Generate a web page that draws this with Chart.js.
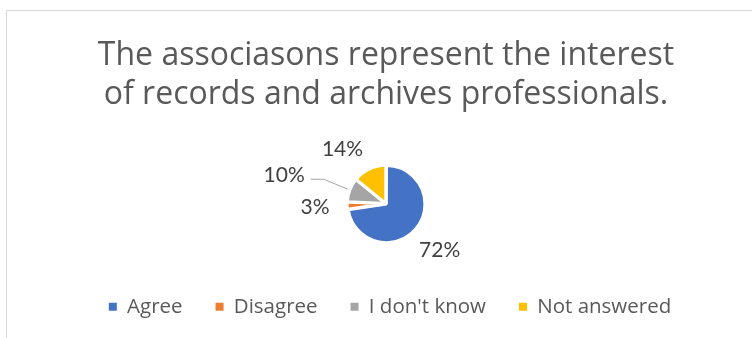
<!DOCTYPE html>
<html>
<head>
<meta charset="utf-8">
<script src="https://cdn.jsdelivr.net/npm/chart.js@4.4.0/dist/chart.umd.min.js"></script>
<style>
  html, body { margin: 0; padding: 0; background: #fff; overflow: hidden; }
  #frame { position: absolute; left: 6px; top: 10px; width: 758px; height: 345px; border: 1px solid #d9d9d9; }
  #frame canvas { display: block; }
</style>
</head>
<body>
<div id="frame"><canvas id="myChart" width="758" height="345"></canvas></div>
<script>
const categories = ['Agree', 'Disagree', "I don't know", 'Not answered'];
const percents = [72, 3, 10, 14];
const sliceColors = ['#4472c4', '#ed7d31', '#a5a5a5', '#ffc000'];
const titleLines = ['The associasons represent the interest', 'of records and archives professionals.'];

// percentage labels outside the slices, pulled ones get a leader line
const pieLabels = {
	id: 'pieLabels',
	afterDatasetsDraw(chart, args, opts) {
		const ctx = chart.ctx;
		const meta = chart.getDatasetMeta(0);
		ctx.save();
		ctx.font = opts.font;
		ctx.fillStyle = opts.color;
		ctx.textAlign = 'center';
		ctx.textBaseline = 'middle';
		meta.data.forEach((arc, i) => {
			const { x, y, startAngle, endAngle, outerRadius } = arc.getProps(['x', 'y', 'startAngle', 'endAngle', 'outerRadius'], true);
			const mid = (startAngle + endAngle) / 2;
			const cos = Math.cos(mid), sin = Math.sin(mid);
			const text = percents[i] + '%';
			const pull = opts.pull[i] || 0;
			const nudge = opts.nudge[i] || [0, 0];
			const d = outerRadius + opts.distance + pull;
			const tx = x + cos * d + nudge[0];
			const ty = y + sin * d + nudge[1];
			if (pull) {
				const w = ctx.measureText(text).width;
				const lx = tx + w / 2 + 6, ly = ty + 4;
				const edge = outerRadius + opts.offset + 1;
				ctx.strokeStyle = '#a6a6a6';
				ctx.lineWidth = 1;
				ctx.beginPath();
				ctx.moveTo(x + cos * edge, y + sin * edge);
				ctx.lineTo(lx + 13, ly);
				ctx.lineTo(lx, ly);
				ctx.stroke();
			}
			ctx.fillText(text, tx, ty);
		});
		ctx.restore();
	}
};

// nudge the legend row a little to the right of the pie's centre line
const legendShift = {
	id: 'legendShift',
	afterLayout(chart, args, opts) {
		chart.legend.left += opts.dx;
		chart.legend.right += opts.dx;
	}
};

const ctx = document.getElementById('myChart').getContext('2d');
new Chart(ctx, {
	type: 'pie',
	data: {
		labels: categories,
		datasets: [{
			data: percents,
			backgroundColor: sliceColors,
			borderColor: '#ffffff',
			borderWidth: 3,
			offset: 2,
			radius: 38
		}]
	},
	options: {
		responsive: false,
		animation: false,
		layout: { padding: { bottom: 29 } },
		plugins: {
			title: {
				display: true,
				text: titleLines,
				color: '#595959',
				font: { family: 'Open Sans', size: 32, weight: 'normal', lineHeight: 1.22 },
				padding: { top: 25, bottom: 30 }
			},
			legend: {
				position: 'bottom',
				labels: {
					font: { family: 'Open Sans', size: 20.5 },
					boxWidth: 8,
					boxHeight: 8,
					padding: 33,
					generateLabels: () => categories.map((text, i) => ({
						text,
						index: i,
						fillStyle: sliceColors[i],
						strokeStyle: sliceColors[i],
						lineWidth: 0,
						fontColor: '#595959',
						hidden: false
					}))
				}
			},
			tooltip: { enabled: false },
			legendShift: { dx: 4 },
			pieLabels: {
				font: '21px Lato',
				color: '#404040',
				offset: 2,
				distance: 33,
				pull: [0, 0, 37, 0],
				nudge: [[0, 0], null, [-1, 10], [-13, 10]]
			}
		}
	},
	plugins: [pieLabels, legendShift]
});
</script>
</body>
</html>
